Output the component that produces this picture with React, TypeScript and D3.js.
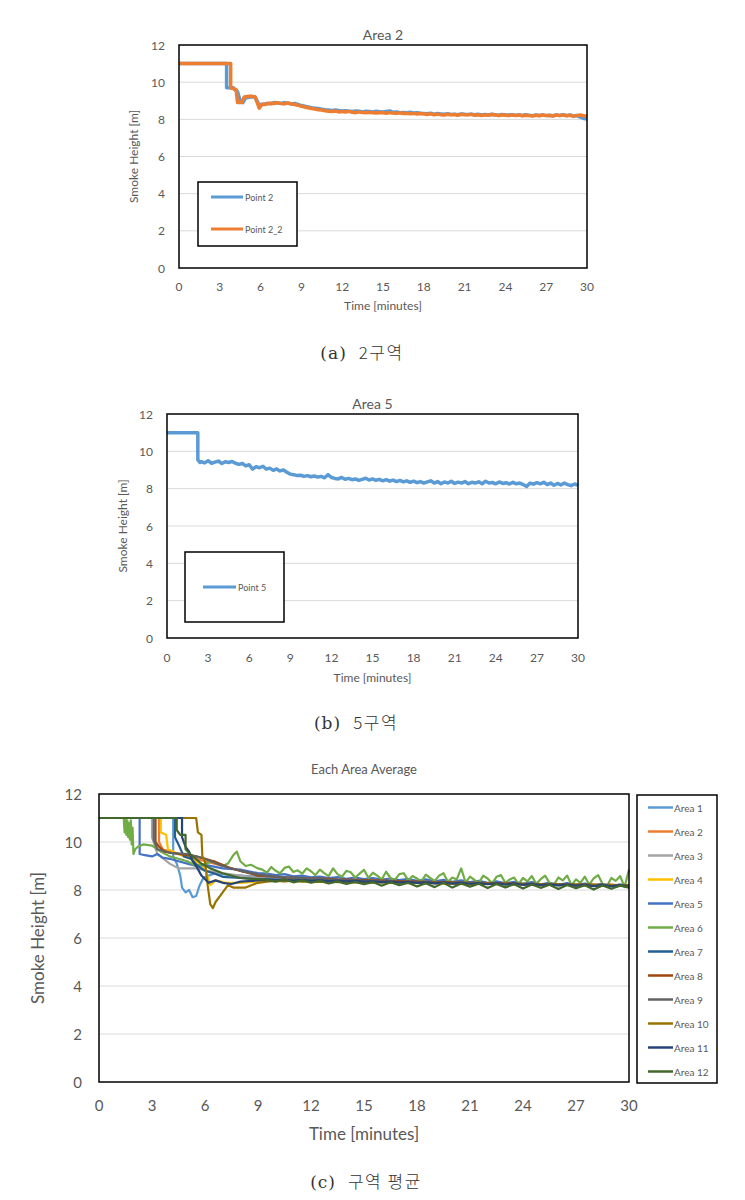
import React from "react";
import * as d3 from "d3";

type Pt = [number, number];

// ---------- Chart (a) Area 2 ----------
const point2Head: Pt[] = [[0, 11], [3.5, 11], [3.5, 9.7], [4.0, 9.7], [4.1, 9.6], [4.3, 9.5], [4.5, 9.0], [4.7, 8.9], [4.9, 9.15], [5.2, 9.2], [5.6, 9.2], [5.8, 8.9], [5.9, 8.7], [6.0, 8.8]];
const point2Tail: number[] = [
  8.82, 8.86, 8.84, 8.9, 8.88, 8.85, 8.9, 8.87, 8.82, 8.86, 8.8, 8.74,
  8.7, 8.66, 8.62, 8.6, 8.58, 8.55, 8.52, 8.5, 8.48, 8.5, 8.47, 8.45,
  8.46, 8.44, 8.42, 8.45, 8.43, 8.4, 8.44, 8.42, 8.4, 8.43, 8.41, 8.39,
  8.42, 8.45, 8.38, 8.4, 8.36, 8.37, 8.35, 8.38, 8.34, 8.36, 8.33, 8.32,
  8.3, 8.33, 8.28, 8.31, 8.29, 8.27, 8.3, 8.26, 8.28, 8.25, 8.29, 8.27,
  8.26, 8.28, 8.25, 8.27, 8.24, 8.26, 8.23, 8.27, 8.25, 8.22, 8.26, 8.24,
  8.23, 8.25, 8.22, 8.24, 8.21, 8.25, 8.22, 8.2, 8.24, 8.21, 8.23, 8.2,
  8.22, 8.19, 8.24, 8.21, 8.25, 8.2, 8.23, 8.18, 8.21, 8.12, 8.05, 8.02,
];
const point22Head: Pt[] = [[0, 11], [3.8, 11], [3.8, 9.7], [4.2, 9.6], [4.3, 8.9], [4.6, 8.9], [4.8, 9.2], [5.3, 9.25], [5.6, 9.2], [5.8, 8.8], [5.9, 8.6], [6.1, 8.8]];
const point22Tail: number[] = [
  8.8, 8.84, 8.87, 8.85, 8.9, 8.86, 8.83, 8.88, 8.84, 8.8, 8.76, 8.7,
  8.66, 8.62, 8.58, 8.56, 8.52, 8.5, 8.46, 8.44, 8.42, 8.45, 8.4, 8.42,
  8.4, 8.43, 8.38, 8.36, 8.4, 8.37, 8.35, 8.38, 8.36, 8.34, 8.37, 8.35,
  8.33, 8.36, 8.34, 8.32, 8.35, 8.31, 8.33, 8.3, 8.32, 8.29, 8.31, 8.3,
  8.26, 8.3, 8.24, 8.28, 8.25, 8.23, 8.27, 8.24, 8.26, 8.22, 8.27, 8.25,
  8.24, 8.27, 8.22, 8.25, 8.21, 8.24, 8.22, 8.26, 8.23, 8.2, 8.25, 8.22,
  8.21, 8.24, 8.2, 8.23, 8.19, 8.22, 8.2, 8.18, 8.22, 8.19, 8.23, 8.2,
  8.21, 8.18, 8.23, 8.2, 8.24, 8.19, 8.22, 8.17, 8.2, 8.23, 8.19, 8.15,
];

// ---------- Chart (b) Area 5 ----------
const point5Head: Pt[] = [[0, 11], [2.25, 11], [2.25, 9.55], [2.4, 9.4]];
const point5Tail: number[] = [
  9.45, 9.38, 9.5, 9.36, 9.42, 9.48, 9.35, 9.44, 9.4, 9.46, 9.36,
  9.3, 9.35, 9.22, 9.28, 9.05, 9.18, 9.12, 9.2,
  9.05, 9.1, 8.98, 9.06, 8.95, 9.0, 8.88, 8.78,
  8.75, 8.7, 8.72, 8.66, 8.7, 8.64, 8.68, 8.62,
  8.66, 8.58, 8.75, 8.6, 8.55, 8.52, 8.6, 8.5,
  8.55, 8.48, 8.52, 8.44, 8.5, 8.56, 8.46, 8.52,
  8.45, 8.5, 8.42, 8.48, 8.4, 8.46, 8.38, 8.44,
  8.36, 8.42, 8.34, 8.4, 8.32, 8.38, 8.3, 8.36,
  8.42, 8.3, 8.38, 8.26, 8.36, 8.3, 8.4, 8.28,
  8.35, 8.3, 8.38, 8.27, 8.34, 8.3, 8.37, 8.26,
  8.4, 8.3, 8.33, 8.26, 8.36, 8.28, 8.32, 8.25,
  8.34, 8.26, 8.3, 8.22, 8.12, 8.3, 8.24, 8.32,
  8.26, 8.34, 8.22, 8.3, 8.18, 8.28, 8.2, 8.3,
  8.22, 8.16, 8.25, 8.18,
];

// ---------- Chart (c) Each Area Average ----------
const areaNames = ["Area 1", "Area 2", "Area 3", "Area 4", "Area 5", "Area 6", "Area 7", "Area 8", "Area 9", "Area 10", "Area 11", "Area 12"];
const areaColors = ["#5B9BD5", "#ED7D31", "#A5A5A5", "#FFC000", "#4472C4", "#70AD47", "#255E91", "#9E480E", "#636363", "#997300", "#264478", "#43682B"];

const area1Head: Pt[] = [[0, 11], [4.2, 11], [4.2, 9.4], [4.4, 9.1], [4.6, 8.6], [4.7, 8.1], [4.9, 7.9], [5.1, 8.0], [5.3, 7.7], [5.5, 7.75], [5.7, 8.2], [5.9, 8.5], [6.2, 8.6], [6.6, 8.7], [7, 8.65], [8, 8.6], [9, 8.55]];
const area2Head: Pt[] = [[0, 11], [3.4, 11], [3.4, 10.0], [3.6, 9.7], [4, 9.6], [5, 9.4], [6, 9.2], [7, 9.0], [8, 8.8], [9, 8.65]];
const area3Head: Pt[] = [[0, 11], [3.0, 11], [3.0, 10.2], [3.3, 9.5], [4, 9.1], [4.5, 8.9], [5.5, 8.9], [6.5, 8.75], [8, 8.6], [9, 8.5]];
const area4Head: Pt[] = [[0, 11], [3.5, 11], [3.5, 10.4], [3.8, 10.3], [3.9, 9.7], [4.5, 9.5], [5.5, 9.2], [6, 8.9], [6.3, 8.2], [6.6, 8.4], [7.2, 8.3], [8, 8.3], [9, 8.35]];
const area5Head: Pt[] = [[0, 11], [2.3, 11], [2.3, 9.5], [2.6, 9.45], [3, 9.4], [3.3, 9.5], [3.6, 9.35], [4, 9.3], [4.5, 9.2], [5, 9.1], [5.5, 9.0], [6, 9.05], [7, 8.9], [8, 8.85], [9, 8.7]];
const area6Head: Pt[] = [[0, 11], [1.4, 11], [1.45, 10.4], [1.5, 11], [1.55, 10.3], [1.6, 10.9], [1.65, 10.2], [1.7, 10.8], [1.75, 10.1], [1.8, 10.9], [1.85, 9.9], [1.9, 10.6], [1.95, 9.5], [2.05, 9.7], [2.2, 9.8], [2.5, 9.9], [3.0, 9.85], [3.5, 9.6], [4, 9.4], [4.5, 9.3], [5, 9.2], [5.5, 9.0], [6, 9.1], [6.5, 9.2], [7, 9.0], [7.3, 9.1], [7.6, 9.45], [7.8, 9.6], [8, 9.2], [8.3, 9.0], [8.6, 9.05], [9, 8.9]];
const area7Head: Pt[] = [[0, 11], [4.3, 11], [4.3, 10.2], [4.5, 9.9], [4.8, 9.4], [5.2, 9.3], [5.6, 9.0], [6, 8.8], [6.5, 8.7], [7, 8.55], [8, 8.5], [9, 8.45]];
const area8Head: Pt[] = [[0, 11], [3.2, 11], [3.2, 10.0], [3.4, 9.8], [3.7, 9.6], [4.5, 9.5], [5.5, 9.4], [6.5, 9.2], [7.5, 8.9], [8.5, 8.7], [9, 8.6]];
const area9Head: Pt[] = [[0, 11], [3.1, 11], [3.1, 10.1], [3.3, 9.7], [4, 9.55], [5, 9.5], [6, 9.3], [7, 9.0], [8, 8.8], [9, 8.65]];
const area10Head: Pt[] = [[0, 11], [5.5, 11], [5.6, 10.4], [5.8, 10.3], [5.85, 9.4], [6.0, 9.2], [6.15, 8.2], [6.3, 7.4], [6.45, 7.25], [6.6, 7.5], [6.9, 7.8], [7.3, 8.2], [7.6, 8.1], [8.3, 8.1], [8.8, 8.25], [9, 8.3]];
const area11Head: Pt[] = [[0, 11], [4.7, 11], [4.7, 10.2], [4.9, 9.8], [5.1, 9.6], [5.3, 9.2], [5.5, 9.0], [5.8, 8.6], [6.2, 8.3], [6.6, 8.4], [7.0, 8.3], [7.5, 8.25], [8, 8.35], [9, 8.4]];
const area12Head: Pt[] = [[0, 11], [4.4, 11], [4.4, 10.5], [4.6, 10.3], [4.9, 10.3], [4.9, 9.7], [5.3, 9.4], [5.8, 9.1], [6.3, 8.9], [7, 8.7], [8, 8.5], [9, 8.45]];

const area1Tail = [8.52, 8.47, 8.5, 8.44, 8.46, 8.41, 8.44, 8.39, 8.42, 8.37, 8.4, 8.35, 8.38, 8.34, 8.36, 8.31, 8.35, 8.3, 8.33, 8.29, 8.31, 8.27, 8.3, 8.26, 8.29, 8.25, 8.27, 8.24, 8.27, 8.22, 8.25, 8.21, 8.24, 8.2, 8.23, 8.19, 8.22, 8.18, 8.21, 8.17, 8.2, 8.16];
const area2Tail = [8.6, 8.55, 8.5, 8.52, 8.47, 8.45, 8.48, 8.43, 8.41, 8.44, 8.4, 8.38, 8.41, 8.37, 8.35, 8.38, 8.34, 8.33, 8.36, 8.31, 8.3, 8.33, 8.29, 8.28, 8.31, 8.27, 8.26, 8.29, 8.25, 8.24, 8.27, 8.23, 8.22, 8.25, 8.21, 8.2, 8.24, 8.2, 8.19, 8.22, 8.18, 8.17];
const area3Tail = [8.48, 8.45, 8.47, 8.42, 8.44, 8.4, 8.42, 8.38, 8.41, 8.36, 8.39, 8.35, 8.37, 8.33, 8.36, 8.32, 8.34, 8.3, 8.33, 8.29, 8.32, 8.28, 8.3, 8.27, 8.29, 8.25, 8.28, 8.24, 8.27, 8.23, 8.26, 8.22, 8.25, 8.21, 8.24, 8.2, 8.23, 8.19, 8.22, 8.18, 8.21, 8.17];
const area4Tail = [8.38, 8.4, 8.37, 8.39, 8.36, 8.38, 8.35, 8.37, 8.34, 8.36, 8.33, 8.35, 8.32, 8.34, 8.31, 8.33, 8.3, 8.32, 8.29, 8.31, 8.28, 8.3, 8.27, 8.29, 8.26, 8.28, 8.25, 8.27, 8.24, 8.26, 8.23, 8.25, 8.22, 8.24, 8.21, 8.23, 8.2, 8.22, 8.19, 8.21, 8.18, 8.2];
const area5Tail = [8.68, 8.62, 8.66, 8.57, 8.6, 8.53, 8.56, 8.5, 8.54, 8.47, 8.52, 8.45, 8.5, 8.43, 8.48, 8.41, 8.46, 8.38, 8.44, 8.36, 8.42, 8.34, 8.4, 8.33, 8.38, 8.3, 8.36, 8.28, 8.34, 8.26, 8.33, 8.24, 8.3, 8.22, 8.29, 8.2, 8.27, 8.19, 8.25, 8.17, 8.23, 8.15];
const area6Tail = [
  8.85, 8.72, 8.96, 8.8, 8.7, 8.92, 8.98, 8.75, 8.82, 8.68, 8.9, 8.78,
  8.62, 8.85, 8.7, 8.58, 8.9, 8.66, 8.55, 8.8, 8.74, 8.52, 8.68, 8.84,
  8.5, 8.72, 8.6, 8.44, 8.76, 8.5, 8.42, 8.66, 8.7, 8.4, 8.58, 8.48,
  8.36, 8.64, 8.5, 8.38, 8.6, 8.7, 8.34, 8.52, 8.44, 8.9, 8.32, 8.56,
  8.42, 8.3, 8.6, 8.48, 8.28, 8.55, 8.62, 8.3, 8.44, 8.52, 8.24, 8.5,
  8.36, 8.58, 8.26, 8.45, 8.6, 8.3, 8.22, 8.52, 8.4, 8.6, 8.2, 8.44,
  8.3, 8.56, 8.22, 8.48, 8.62, 8.26, 8.16, 8.5, 8.38, 8.58, 8.12, 8.85,
];
const area7Tail = [8.45, 8.43, 8.44, 8.4, 8.42, 8.39, 8.41, 8.38, 8.4, 8.36, 8.38, 8.35, 8.37, 8.33, 8.35, 8.32, 8.34, 8.3, 8.32, 8.29, 8.31, 8.28, 8.3, 8.27, 8.29, 8.25, 8.28, 8.24, 8.27, 8.23, 8.26, 8.22, 8.25, 8.21, 8.24, 8.2, 8.23, 8.19, 8.22, 8.18, 8.21, 8.17];
const area8Tail = [8.58, 8.55, 8.53, 8.52, 8.5, 8.48, 8.47, 8.46, 8.44, 8.43, 8.42, 8.41, 8.4, 8.39, 8.38, 8.37, 8.36, 8.35, 8.34, 8.33, 8.33, 8.32, 8.31, 8.3, 8.3, 8.29, 8.28, 8.28, 8.27, 8.26, 8.26, 8.25, 8.25, 8.24, 8.23, 8.23, 8.22, 8.22, 8.21, 8.21, 8.2, 8.2];
const area9Tail = [8.6, 8.56, 8.54, 8.5, 8.5, 8.46, 8.46, 8.43, 8.43, 8.4, 8.4, 8.38, 8.38, 8.35, 8.36, 8.33, 8.34, 8.32, 8.32, 8.3, 8.31, 8.28, 8.29, 8.27, 8.28, 8.25, 8.27, 8.24, 8.25, 8.23, 8.24, 8.22, 8.23, 8.2, 8.22, 8.19, 8.21, 8.18, 8.2, 8.17, 8.19, 8.16];
const area10Tail = [8.35, 8.38, 8.36, 8.39, 8.35, 8.37, 8.34, 8.36, 8.33, 8.35, 8.32, 8.34, 8.31, 8.33, 8.3, 8.32, 8.29, 8.31, 8.28, 8.3, 8.27, 8.29, 8.26, 8.28, 8.25, 8.27, 8.24, 8.26, 8.23, 8.25, 8.22, 8.24, 8.21, 8.23, 8.2, 8.22, 8.19, 8.21, 8.18, 8.2, 8.17, 8.19];
const area11Tail = [8.42, 8.4, 8.42, 8.39, 8.41, 8.38, 8.4, 8.37, 8.39, 8.36, 8.38, 8.35, 8.36, 8.33, 8.35, 8.32, 8.34, 8.3, 8.32, 8.28, 8.31, 8.27, 8.3, 8.26, 8.29, 8.24, 8.28, 8.23, 8.27, 8.22, 8.25, 8.2, 8.24, 8.19, 8.23, 8.18, 8.22, 8.16, 8.21, 8.15, 8.2, 8.14];
const area12Tail = [8.42, 8.35, 8.44, 8.32, 8.4, 8.3, 8.38, 8.27, 8.36, 8.25, 8.34, 8.24, 8.33, 8.18, 8.32, 8.2, 8.3, 8.15, 8.28, 8.12, 8.3, 8.1, 8.27, 8.14, 8.26, 8.08, 8.25, 8.11, 8.24, 8.06, 8.23, 8.09, 8.22, 8.04, 8.21, 8.07, 8.2, 8.02, 8.19, 8.05, 8.18, 8.1];

const xTicks = [0, 3, 6, 9, 12, 15, 18, 21, 24, 27, 30];
const yTicks = [0, 2, 4, 6, 8, 10, 12];

function join(head: Pt[], tailStart: number, tailStep: number, tail: number[]): Pt[] {
  return head.concat(tail.map((v, i) => [tailStart + i * tailStep, v] as Pt)).filter((p) => p[0] <= 30);
}

const areaSeries: Pt[][] = [
  join(area1Head, 9.5, 0.5, area1Tail),
  join(area2Head, 9.5, 0.5, area2Tail),
  join(area3Head, 9.5, 0.5, area3Tail),
  join(area4Head, 9.5, 0.5, area4Tail),
  join(area5Head, 9.5, 0.5, area5Tail),
  join(area6Head, 9.25, 0.25, area6Tail),
  join(area7Head, 9.5, 0.5, area7Tail),
  join(area8Head, 9.5, 0.5, area8Tail),
  join(area9Head, 9.5, 0.5, area9Tail),
  join(area10Head, 9.5, 0.5, area10Tail),
  join(area11Head, 9.5, 0.5, area11Tail),
  join(area12Head, 9.5, 0.5, area12Tail),
];

const TXT = "#595959";
const FONT = "Lato, 'Open Sans', sans-serif";

interface ChartProps {
  x0: number; x1: number; y0: number; y1: number;
  title: string; titleY: number; titleSize: number;
  tickSize: number; tickGap: number; xTickY: number;
  axisSize: number; xTitleY: number; yTitleX: number;
  series: { pts: Pt[]; color: string; width: number }[];
}

function Chart(p: ChartProps) {
  const x = d3.scaleLinear().domain([0, 30]).range([p.x0, p.x1]);
  const y = d3.scaleLinear().domain([0, 12]).range([p.y1, p.y0]);
  const line = d3.line<Pt>().x((d) => x(d[0])).y((d) => y(d[1]));
  const cx = (p.x0 + p.x1) / 2;
  const cy = (p.y0 + p.y1) / 2;
  return (
    <g fontFamily={FONT}>
      <text x={cx} y={p.titleY} textAnchor="middle" fontSize={p.titleSize} fill={TXT} dominantBaseline="central">{p.title}</text>
      {yTicks.filter((t) => t > 0 && t < 12).map((t) => (
        <line key={t} x1={p.x0} x2={p.x1} y1={y(t)} y2={y(t)} stroke="#d9d9d9" strokeWidth={1} />
      ))}
      {p.series.map((s, i) => (
        <path key={i} d={line(s.pts) || ""} fill="none" stroke={s.color} strokeWidth={s.width} strokeLinejoin="round" />
      ))}
      <rect x={p.x0} y={p.y0} width={p.x1 - p.x0} height={p.y1 - p.y0} fill="none" stroke="#000" strokeWidth={1.5} />
      {yTicks.map((t) => (
        <text key={t} x={p.x0 - p.tickGap} y={y(t)} textAnchor="end" dominantBaseline="central" fontSize={p.tickSize} fill={TXT}>{t}</text>
      ))}
      {xTicks.map((t) => (
        <text key={t} x={x(t)} y={p.xTickY} textAnchor="middle" dominantBaseline="central" fontSize={p.tickSize} fill={TXT}>{t}</text>
      ))}
      <text x={cx} y={p.xTitleY} textAnchor="middle" dominantBaseline="central" fontSize={p.axisSize} fill={TXT}>Time [minutes]</text>
      <text transform={`translate(${p.yTitleX},${cy}) rotate(-90)`} textAnchor="middle" dominantBaseline="central" fontSize={p.axisSize} fill={TXT}>Smoke Height [m]</text>
    </g>
  );
}

const CAPTION_LATIN = "'DejaVu Serif', serif";
const CAPTION_KR = "'Noto Sans CJK KR', sans-serif";

function Caption({ cx, y, label, text }: { cx: number; y: number; label: string; text: string }) {
  return (
    <text x={cx} y={y} textAnchor="middle" fontSize={17} fill="#333" xmlSpace="preserve">
      <tspan fontFamily={CAPTION_LATIN} letterSpacing={1}>{label}</tspan>
      <tspan fontFamily={CAPTION_KR} fontWeight={300} letterSpacing={1.5} dx={12}>{text}</tspan>
    </text>
  );
}

export default function App() {
  return (
    <svg width={745} height={1200} style={{ position: "absolute", left: 0, top: 0, background: "#fff" }}>
      <rect x={0} y={0} width={745} height={1200} fill="#fff" />
      {/* (a) */}
      <Chart x0={179} x1={587} y0={45} y1={268} title="Area 2" titleY={34} titleSize={14}
        tickSize={12} tickGap={14} xTickY={286} axisSize={12} xTitleY={305} yTitleX={133}
        series={[
          { pts: join(point2Head, 6.25, 0.25, point2Tail), color: "#5B9BD5", width: 3.5 },
          { pts: join(point22Head, 6.25, 0.25, point22Tail), color: "#ED7D31", width: 3.5 },
        ]} />
      <rect x={198} y={182} width={99} height={64} fill="#fff" stroke="#000" strokeWidth={1.5} />
      <line x1={211} x2={243} y1={197} y2={197} stroke="#5B9BD5" strokeWidth={3} />
      <text x={245} y={197} dominantBaseline="central" fontSize={9} fill={TXT} fontFamily={FONT}>Point 2</text>
      <line x1={211} x2={243} y1={229} y2={229} stroke="#ED7D31" strokeWidth={3} />
      <text x={245} y={229} dominantBaseline="central" fontSize={9} fill={TXT} fontFamily={FONT}>Point 2_2</text>
      <Caption cx={362} y={359} label="(a)" text="2구역" />

      {/* (b) */}
      <Chart x0={167} x1={578} y0={414} y1={638} title="Area 5" titleY={403} titleSize={14}
        tickSize={12} tickGap={14} xTickY={657} axisSize={12} xTitleY={677} yTitleX={122}
        series={[{ pts: join(point5Head, 2.5, 0.25, point5Tail), color: "#5B9BD5", width: 3.5 }]} />
      <rect x={185} y={552} width={99} height={70} fill="#fff" stroke="#000" strokeWidth={1.5} />
      <line x1={203} x2={236} y1={587} y2={587} stroke="#5B9BD5" strokeWidth={3} />
      <text x={238} y={587} dominantBaseline="central" fontSize={9} fill={TXT} fontFamily={FONT}>Point 5</text>
      <Caption cx={356} y={729} label="(b)" text="5구역" />

      {/* (c) */}
      <Chart x0={99} x1={629} y0={794} y1={1082} title="Each Area Average" titleY={769} titleSize={13}
        tickSize={15} tickGap={17} xTickY={1105} axisSize={17} xTitleY={1133} yTitleX={37}
        series={areaSeries.map((pts, i) => ({ pts, color: areaColors[i], width: 2.2 }))} />
      <rect x={637} y={795} width={80} height={288} fill="#fff" stroke="#000" strokeWidth={1.5} />
      {areaNames.map((n, i) => {
        const yy = 807.5 + i * 24;
        return (
          <g key={n}>
            <line x1={648} x2={673} y1={yy} y2={yy} stroke={areaColors[i]} strokeWidth={2.5} />
            <text x={674} y={yy} dominantBaseline="central" fontSize={10} fill={TXT} fontFamily={FONT}>{n}</text>
          </g>
        );
      })}
      <Caption cx={366} y={1188} label="(c)" text="구역 평균" />
    </svg>
  );
}
